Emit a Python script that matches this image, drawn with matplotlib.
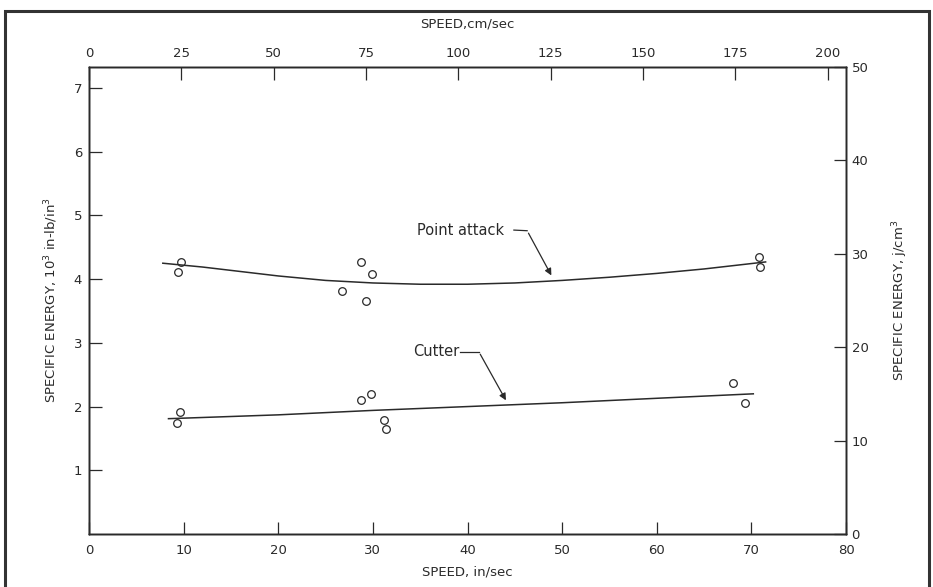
import matplotlib
matplotlib.use('Agg')
import matplotlib.pyplot as plt
import numpy as np

# Datos (velocidad en in/sec, energia en 10^3 in-lb/in^3)
punto_x = [9.7, 9.4, 28.7, 29.9, 26.7, 29.3, 70.8, 70.9]
punto_y = [4.27, 4.11, 4.27, 4.08, 3.81, 3.66, 4.35, 4.19]
cortador_x = [9.6, 9.3, 28.7, 29.8, 31.2, 31.4, 68.1, 69.3]
cortador_y = [1.92, 1.74, 2.10, 2.20, 1.79, 1.65, 2.37, 2.06]

curva_punto_x = [7.8, 12, 16, 20, 25, 30, 35, 40, 45, 50, 55, 60, 65, 71.5]
curva_punto_y = [4.25, 4.19, 4.12, 4.05, 3.98, 3.94, 3.92, 3.92, 3.94, 3.98, 4.03, 4.09, 4.16, 4.27]
curva_cortador_x = [8.4, 20, 30, 40, 50, 60, 70.2]
curva_cortador_y = [1.81, 1.87, 1.94, 2.00, 2.06, 2.13, 2.20]

ticks_in = [10, 20, 30, 40, 50, 60, 70]
ticks_cm = [25, 50, 75, 100, 125, 150, 175, 200]
ticks_y = [1, 2, 3, 4, 5, 6, 7]
ticks_j = [0, 10, 20, 30, 40, 50]

cor = '#2a2a2a'
plt.rcParams['font.family'] = 'DejaVu Sans'
plt.rcParams['font.size'] = 9.5

fig = plt.figure(figsize=(9.33, 5.87), dpi=100)
ax = fig.add_axes([0.0954, 0.0903, 0.8114, 0.7956])

ax.plot(curva_punto_x, curva_punto_y, color=cor, linewidth=1.1)
ax.plot(curva_cortador_x, curva_cortador_y, color=cor, linewidth=1.1)
ax.plot(punto_x, punto_y, 'o', markerfacecolor='none', markeredgecolor=cor, markersize=5.5, markeredgewidth=0.9)
ax.plot(cortador_x, cortador_y, 'o', markerfacecolor='none', markeredgecolor=cor, markersize=5.5, markeredgewidth=0.9)

ax.set_xlim(0, 80)
ax.set_ylim(0, 7.33)
ax.set_xticks([0] + ticks_in + [80])
ax.set_yticks(ticks_y)
for lado in ax.spines.values():
    lado.set_color(cor)
    lado.set_linewidth(1.0)
ax.tick_params(direction='in', length=9, width=0.9, color=cor, labelcolor=cor)
ax.tick_params(axis='x', pad=7)
ax.tick_params(axis='y', pad=5)
ax.set_xlabel('SPEED, in/sec', color=cor, labelpad=6)
ax.set_ylabel('SPECIFIC ENERGY, 10$^3$ in-lb/in$^3$', color=cor, labelpad=10)

# eixo superior em cm/sec
ax_top = ax.twiny()
ax_top.set_xlim(0, 205)
ax_top.set_xticks([0] + ticks_cm)
ax_top.tick_params(direction='in', length=9, width=0.9, color=cor, labelcolor=cor, pad=5)
ax_top.set_xlabel('SPEED,cm/sec', color=cor, labelpad=14)

# eixo direito em j/cm^3
ax_dir = ax.twinx()
ax_dir.set_ylim(0, 50)
ax_dir.set_yticks(ticks_j)
ax_dir.tick_params(direction='in', length=9, width=0.9, color=cor, labelcolor=cor, pad=4)
ax_dir.set_ylabel('SPECIFIC ENERGY, j/cm$^3$', color=cor, labelpad=16)
for a in (ax_top, ax_dir):
    for lado in a.spines.values():
        lado.set_color(cor)
        lado.set_linewidth(1.0)

# anotacoes com setas
ax.text(34.7, 4.77, 'Point attack', color=cor, va='center', ha='left', fontsize=10.5)
ax.plot([44.9, 46.3], [4.77, 4.76], color=cor, linewidth=0.9)
ax.annotate('', xy=(49.0, 4.02), xytext=(46.3, 4.76),
            arrowprops=dict(arrowstyle='-|>', color=cor, lw=0.9, mutation_scale=10))
ax.text(34.2, 2.86, 'Cutter', color=cor, va='center', ha='left', fontsize=10.5)
ax.plot([39.2, 41.2], [2.86, 2.86], color=cor, linewidth=0.9)
ax.annotate('', xy=(44.2, 2.06), xytext=(41.2, 2.86),
            arrowprops=dict(arrowstyle='-|>', color=cor, lw=0.9, mutation_scale=10))

# moldura externa
moldura = plt.Rectangle((5 / 933, -0.05), 924 / 933, 1.05 - 11 / 587, transform=fig.transFigure,
                        fill=False, edgecolor='#333333', linewidth=2.2)
fig.patches.append(moldura)

fig.savefig('out.png', dpi=100)
